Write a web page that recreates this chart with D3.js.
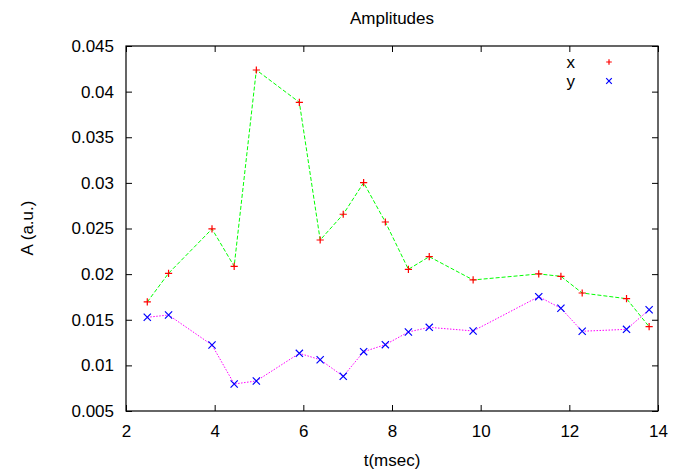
<!DOCTYPE html>
<html>
<head>
<meta charset="utf-8">
<script src="https://cdn.jsdelivr.net/npm/d3@7"></script>
<style>
  body { margin: 0; background: #fff; }
  text { font-family: "Liberation Sans", Arial, sans-serif; fill: #000; }
</style>
</head>
<body>
<div id="chart"></div>
<script>
// values
const times = [2.48, 2.96, 3.94, 4.44, 4.94, 5.91, 6.38, 6.90, 7.36, 7.85, 8.37, 8.84, 9.83, 11.31, 11.81, 12.29, 13.29, 13.80];
const ampX = [0.01695, 0.02009, 0.02495, 0.02086, 0.04237, 0.03883, 0.02374, 0.02656, 0.03002, 0.02571, 0.02053, 0.02191, 0.01936, 0.02002, 0.01976, 0.01793, 0.01731, 0.01424];
const ampY = [0.01527, 0.01552, 0.01223, 0.00796, 0.00829, 0.01132, 0.01062, 0.00880, 0.01150, 0.01227, 0.01366, 0.01417, 0.01377, 0.01753, 0.01626, 0.01374, 0.01395, 0.01610];
const xTicks = [2, 4, 6, 8, 10, 12, 14];
const yTicks = [0.005, 0.01, 0.015, 0.02, 0.025, 0.03, 0.035, 0.04, 0.045];
const seriesNames = ["x", "y"];

const width = 676, height = 474;
const margin = { top: 46, right: 18, bottom: 63, left: 126 };
const innerWidth = width - margin.left - margin.right;
const innerHeight = height - margin.top - margin.bottom;

const svg = d3.select("#chart").append("svg")
    .attr("width", width)
    .attr("height", height);

const g = svg.append("g")
    .attr("transform", `translate(${margin.left},${margin.top})`);

const xScale = d3.scaleLinear().domain([2, 14]).range([0, innerWidth]);
const yScale = d3.scaleLinear().domain([0.005, 0.045]).range([innerHeight, 0]);

const fmtY = d => d3.format("")(+d.toFixed(3));
const tickLen = 6;

// bottom axis, ticks inward
const xAxis = g.append("g")
    .attr("transform", `translate(0,${innerHeight})`)
    .call(d3.axisBottom(xScale).tickValues(xTicks).tickSize(-tickLen).tickPadding(14));
// top mirror ticks
const xTop = g.append("g")
    .call(d3.axisTop(xScale).tickValues(xTicks).tickSize(-tickLen).tickFormat(""));
const yAxis = g.append("g")
    .call(d3.axisLeft(yScale).tickValues(yTicks).tickSize(-tickLen).tickPadding(12).tickFormat(fmtY));
const yRight = g.append("g")
    .attr("transform", `translate(${innerWidth},0)`)
    .call(d3.axisRight(yScale).tickValues(yTicks).tickSize(-tickLen).tickFormat(""));

[xAxis, xTop, yAxis, yRight].forEach(a => {
    a.select(".domain").remove();
    a.selectAll("line").attr("stroke", "#000");
    a.selectAll("text").attr("font-size", 17).attr("font-family", "Liberation Sans, Arial, sans-serif");
});

// frame
g.append("rect")
    .attr("width", innerWidth)
    .attr("height", innerHeight)
    .attr("fill", "none")
    .attr("stroke", "#000")
    .attr("stroke-width", 1.2);

const line = d3.line()
    .x((d, i) => xScale(times[i]))
    .y(d => yScale(d));

g.append("path")
    .datum(ampX)
    .attr("fill", "none")
    .attr("stroke", "#00ff00")
    .attr("stroke-width", 1)
    .attr("stroke-dasharray", "4,2")
    .attr("d", line);

g.append("path")
    .datum(ampY)
    .attr("fill", "none")
    .attr("stroke", "#ff00ff")
    .attr("stroke-width", 1)
    .attr("stroke-dasharray", "1.5,1.5")
    .attr("d", line);

function drawPlus(sel, color, m) {
    sel.append("path")
        .attr("d", `M${-m},0H${m}M0,${-m}V${m}`)
        .attr("stroke", color)
        .attr("stroke-width", 1.2)
        .attr("fill", "none");
}
function drawCross(sel, color, m) {
    sel.append("path")
        .attr("d", `M${-m},${-m}L${m},${m}M${-m},${m}L${m},${-m}`)
        .attr("stroke", color)
        .attr("stroke-width", 1.2)
        .attr("fill", "none");
}

ampX.forEach((v, i) => {
    g.append("g").attr("transform", `translate(${xScale(times[i])},${yScale(v)})`)
        .call(drawPlus, "#ff0000", 3.6);
});
ampY.forEach((v, i) => {
    g.append("g").attr("transform", `translate(${xScale(times[i])},${yScale(v)})`)
        .call(drawCross, "#0000ff", 3.6);
});

// legend
const legend = svg.append("g");
seriesNames.forEach((name, i) => {
    const y = 62 + i * 19;
    legend.append("text")
        .attr("x", 575).attr("y", y + 6)
        .attr("text-anchor", "end")
        .attr("font-size", 17)
        .text(name);
    const mk = legend.append("g").attr("transform", `translate(609,${y})`);
    if (i === 0) drawPlus(mk, "#ff0000", 2.8); else drawCross(mk, "#0000ff", 2.8);
});

// title and axis labels
svg.append("text")
    .attr("x", 392).attr("y", 24)
    .attr("text-anchor", "middle")
    .attr("font-size", 17)
    .text("Amplitudes");

svg.append("text")
    .attr("x", 392).attr("y", 466)
    .attr("text-anchor", "middle")
    .attr("font-size", 17)
    .text("t(msec)");

svg.append("text")
    .attr("transform", "translate(33,228) rotate(-90)")
    .attr("text-anchor", "middle")
    .attr("font-size", 17)
    .text("A (a.u.)");
</script>
</body>
</html>
